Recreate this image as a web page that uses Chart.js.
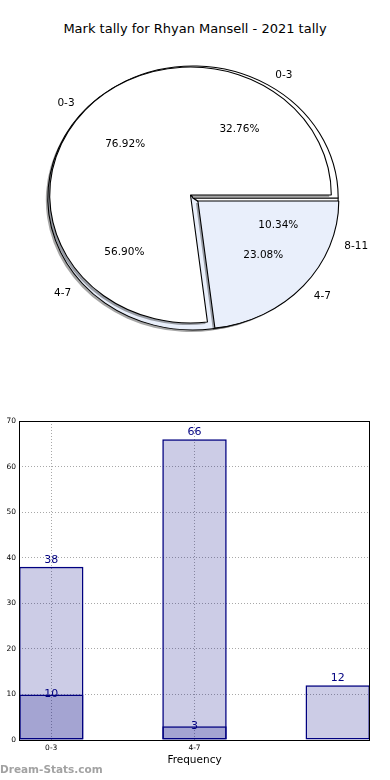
<!DOCTYPE html>
<html>
<head>
<meta charset="utf-8">
<script src="https://cdn.jsdelivr.net/npm/chart.js@4.4.1/dist/chart.umd.min.js"></script>
<style>
  body { margin: 0; background: #fff; width: 390px; height: 780px; position: relative; overflow: hidden; font-family: "DejaVu Sans", sans-serif; }
  canvas { position: absolute; left: 0; }
  #title { position: absolute; top: 21px; left: 0; width: 390px; text-align: center; font-size: 13px; color: #000; }
  #mark { position: absolute; left: 0; top: 763px; font-size: 10.5px; font-weight: bold; color: #a2a2a2; }
</style>
</head>
<body>
<div id="title">Mark tally for Rhyan Mansell - 2021 tally</div>
<canvas id="pieA" width="390" height="400" style="top:0"></canvas>
<canvas id="pieB" width="390" height="400" style="top:0"></canvas>
<canvas id="bars" width="390" height="380" style="top:400px"></canvas>
<div id="mark">Dream-Stats.com</div>
<script>
// values
const categories = ['0-3', '4-7', '8-11'];
const tally2021 = [38, 66, 12];
const tallyOther = [10, 3];
const yMax = 70;
const yStep = 10;

const font = '"DejaVu Sans", sans-serif';
const navy = '#000080';
const paleBlue = '#e9effb';
const stretch = 1.1; // pie is drawn as an ellipse, wider than tall

function pieLabels(chart, ctx) {
    const ds = chart.data.datasets[0];
    const total = ds.data.reduce((s, v) => s + v, 0);
    ctx.save();
    ctx.font = '10.5px ' + font;
    ctx.fillStyle = '#000';
    ctx.textBaseline = 'middle';
    chart.getDatasetMeta(0).data.forEach((el, i) => {
        const mid = (el.startAngle + el.endAngle) / 2;
        const off = (el.options.offset || 0) / 4;
        const r = el.outerRadius;
        const px = k => el.x + Math.cos(mid) * (off + k * r) * stretch;
        const py = k => el.y + Math.sin(mid) * (off + k * r) + 1.5;
        ctx.textAlign = 'center';
        ctx.fillText((ds.data[i] / total * 100).toFixed(2) + '%', px(0.62), py(0.62));
        ctx.textAlign = Math.cos(mid) > 0 ? 'left' : 'right';
        ctx.fillText(chart.data.labels[i], px(1.1), py(1.1));
    });
    ctx.restore();
}

// squash the pie into an ellipse and add the drop shadow
const ellipsePie = {
    id: 'ellipsePie',
    beforeDatasetsDraw(chart) {
        const ctx = chart.ctx;
        const a = chart.chartArea;
        const cx = (a.left + a.right) / 2;
        ctx.save();
        ctx.translate(cx, 0);
        ctx.scale(stretch, 1);
        ctx.translate(-cx, 0);

        ctx.save();
        ctx.translate(-2 / stretch, 2);
        ctx.fillStyle = 'rgba(0,0,0,0.35)';
        chart.getDatasetMeta(0).data.forEach(el => {
            const mid = (el.startAngle + el.endAngle) / 2;
            const off = (el.options.offset || 0) / 4;
            const ox = el.x + Math.cos(mid) * off;
            const oy = el.y + Math.sin(mid) * off;
            ctx.beginPath();
            ctx.moveTo(ox, oy);
            ctx.arc(ox, oy, el.outerRadius, el.startAngle, el.endAngle);
            ctx.closePath();
            ctx.fill();
        });
        ctx.restore();
    },
    afterDatasetsDraw(chart) {
        chart.ctx.restore();
        // texts sit above every wedge, so the top pie writes the labels of both
        if (chart.canvas.id === 'pieB') {
            pieLabels(Chart.getChart('pieA'), chart.ctx);
            pieLabels(chart, chart.ctx);
        }
    }
};

// chart.js only goes clockwise, so feed the wedges in reverse and start at 3 o'clock
function makePie(id, values, colors, offsets, radius, padding) {
    return new Chart(document.getElementById(id), {
        type: 'pie',
        data: {
            labels: categories.slice(0, values.length).reverse(),
            datasets: [{
                data: values.slice().reverse(),
                backgroundColor: colors,
                borderColor: '#000',
                borderWidth: 1,
                offset: offsets,
                clip: false
            }]
        },
        options: {
            responsive: false,
            animation: false,
            events: [],
            rotation: 90,
            radius: radius,
            layout: { padding: padding },
            plugins: {
                legend: { display: false },
                tooltip: { enabled: false }
            }
        },
        plugins: [ellipsePie]
    });
}

makePie('pieA', tally2021, ['#ffffff', paleBlue, '#ffffff'], [0, 0, 0], 132,
    { left: 0, right: 4, top: 0, bottom: 4 });
makePie('pieB', tallyOther, [paleBlue, '#ffffff'], [36, 0], 128,
    { left: 0, right: 9, top: 0, bottom: 10 });

// black box round the plot area
const frame = {
    id: 'frame',
    afterDatasetsDraw(chart) {
        const ctx = chart.ctx;
        const a = chart.chartArea;
        ctx.save();
        ctx.strokeStyle = '#000';
        ctx.lineWidth = 1;
        ctx.strokeRect(a.left + 0.5, a.top + 0.5, a.right - a.left - 1, a.bottom - a.top);
        ctx.restore();
    }
};

// value above each bar
const barLabels = {
    id: 'barLabels',
    afterDatasetsDraw(chart) {
        const ctx = chart.ctx;
        ctx.save();
        ctx.font = '11px ' + font;
        ctx.fillStyle = navy;
        ctx.textAlign = 'center';
        ctx.textBaseline = 'middle';
        chart.data.datasets.forEach((ds, d) => {
            chart.getDatasetMeta(d).data.forEach((el, i) => {
                ctx.fillText(String(ds.data[i].y), el.x, el.y + (d === 0 ? -7 : 0));
            });
        });
        ctx.restore();
    }
};

const barStyle = {
    backgroundColor: 'rgba(0,0,128,0.2)',
    borderColor: navy,
    borderWidth: 1.5,
    borderSkipped: false,
    grouped: false,
    categoryPercentage: 1,
    barPercentage: 0.45
};

new Chart(document.getElementById('bars'), {
    type: 'bar',
    data: {
        datasets: [
            Object.assign({ data: tally2021.map((v, i) => ({ x: i, y: v })), order: 1 }, barStyle),
            Object.assign({ data: tallyOther.map((v, i) => ({ x: i, y: v })), order: 0 }, barStyle)
        ]
    },
    options: {
        responsive: false,
        animation: false,
        events: [],
        layout: { padding: { top: 21, right: 20, left: 0, bottom: 0 } },
        scales: {
            x: {
                type: 'linear',
                min: -0.225,
                max: 2.225,
                offset: false,
                afterBuildTicks: s => { s.ticks = [0, 1].map(v => ({ value: v })); },
                afterFit: s => { s.height = 40; },
                ticks: {
                    callback: v => categories[v],
                    font: { size: 7.5, family: font },
                    color: '#000',
                    padding: 4,
                    maxRotation: 0,
                    autoSkip: false
                },
                grid: { color: '#a8a8a8', drawTicks: false, offset: false },
                border: { display: false, dash: [1, 2] },
                title: {
                    display: true,
                    text: 'Frequency',
                    font: { size: 10.5, family: font },
                    color: '#000',
                    padding: { top: 0, bottom: 13 }
                }
            },
            y: {
                min: 0,
                max: yMax,
                afterFit: s => { s.width = 19; },
                ticks: {
                    stepSize: yStep,
                    font: { size: 7.5, family: font },
                    color: '#000',
                    padding: 3
                },
                grid: { color: '#a8a8a8', drawTicks: false },
                border: { display: false, dash: [1, 2] }
            }
        },
        plugins: {
            legend: { display: false },
            tooltip: { enabled: false }
        }
    },
    plugins: [frame, barLabels]
});
</script>
</body>
</html>
